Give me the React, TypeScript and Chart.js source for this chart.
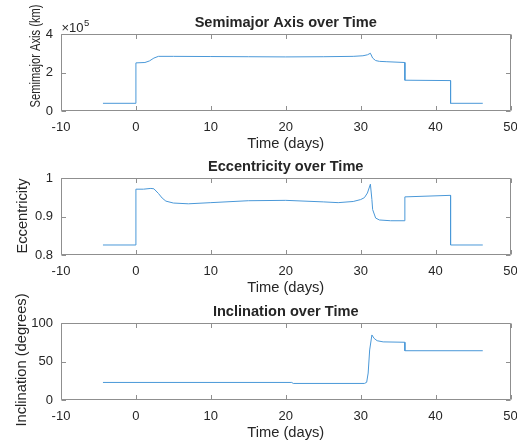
import { useEffect, useRef } from 'react';
import { Chart, registerables } from 'chart.js';

Chart.register(...registerables);

// ---------- data ----------
const xTickValues = [-10, 0, 10, 20, 30, 40, 50];

const semimajorTime = [-4.4, 0, 0, 1.2, 1.8, 2.4, 3, 5, 10, 15, 20, 25, 29, 30.3, 30.9, 31.3, 31.6, 32, 32.5, 33.5, 35.9, 35.9, 42, 42, 46.3];
const semimajorKm = [40000, 40000, 250000, 252000, 260000, 275000, 284000, 284000, 283000, 282000, 281000, 282000, 284000, 287000, 292000, 300000, 275000, 262000, 258000, 256000, 252000, 160000, 158000, 40000, 40000];
const semimajorTicks = [0, 200000, 400000];

const eccTime = [-4.4, 0, 0, 1, 2, 2.4, 3, 3.5, 4, 5, 7, 10, 15, 20, 25, 27, 29, 30, 30.5, 30.9, 31.3, 31.5, 31.6, 32, 32.5, 34, 35.9, 35.9, 42, 42, 46.3];
const eccValues = [0.826, 0.826, 0.971, 0.971, 0.973, 0.972, 0.96, 0.948, 0.94, 0.935, 0.933, 0.936, 0.941, 0.942, 0.938, 0.936, 0.939, 0.944, 0.949, 0.961, 0.984, 0.944, 0.918, 0.896, 0.891, 0.889, 0.889, 0.951, 0.955, 0.826, 0.826];
const eccTicks = [0.8, 0.9, 1];

const inclTime = [-4.4, 20.8, 21, 30.5, 30.8, 31, 31.2, 31.5, 31.8, 32.2, 33, 35.9, 35.9, 46.3];
const inclDeg = [22.8, 22.8, 21.5, 21.5, 23, 35, 65, 84.5, 80, 77, 75.5, 75, 64, 64];
const inclTicks = [0, 50, 100];

// ---------- styles ----------
const FONT = "'Liberation Sans', Arial, Helvetica, sans-serif";
const TEXT = '#262626';
const BOX = '#8f8f8f';
const LINE = '#4a98d8';
const CANVAS_W = 517;
const CANVAS_H = 155;

const matlabPlugin = {
  id: 'matlabBox',
  afterDatasetsDraw(chart: any, _args: any, opts: any) {
    const { ctx, chartArea } = chart;
    const xs = chart.scales.x;
    const ys = chart.scales.y;
    const L = Math.round(chartArea.left) + 0.5;
    const R = Math.round(chartArea.right) - 0.5;
    const T = Math.round(chartArea.top) + 0.5;
    const B = Math.round(chartArea.bottom) - 0.5;
    ctx.save();
    ctx.strokeStyle = BOX;
    ctx.lineWidth = 1;
    ctx.beginPath();
    ctx.rect(L, T, R - L, B - T);
    const tl = 4.5;
    xs.ticks.forEach((t: any) => {
      const p = Math.round(xs.getPixelForValue(t.value)) + 0.5;
      ctx.moveTo(p, B);
      ctx.lineTo(p, B - tl);
      ctx.moveTo(p, T);
      ctx.lineTo(p, T + tl);
    });
    ys.ticks.forEach((t: any) => {
      const p = Math.round(ys.getPixelForValue(t.value)) + 0.5;
      ctx.moveTo(L, p);
      ctx.lineTo(L + tl, p);
      ctx.moveTo(R, p);
      ctx.lineTo(R - tl, p);
    });
    ctx.stroke();

    // y-axis title
    ctx.fillStyle = TEXT;
    ctx.translate(opts.yTitleX, opts.yTitleY);
    ctx.rotate(-Math.PI / 2);
    ctx.scale(opts.yTitleSquash, 1);
    ctx.font = `${opts.yTitleSize}px ${FONT}`;
    ctx.textAlign = 'center';
    ctx.textBaseline = 'middle';
    ctx.fillText(opts.yTitle, 0, 0);
    ctx.restore();

    if (opts.exponent) {
      ctx.save();
      ctx.fillStyle = TEXT;
      ctx.textAlign = 'left';
      ctx.textBaseline = 'alphabetic';
      ctx.font = `13px ${FONT}`;
      const x0 = chartArea.left + 0.5;
      ctx.fillText('\u00d710', x0, chartArea.top - 2);
      const w = ctx.measureText('\u00d710').width;
      ctx.font = `9.5px ${FONT}`;
      ctx.fillText(opts.exponent, x0 + w + 0.5, chartArea.top - 8);
      ctx.restore();
    }
  },
};

type PanelProps = {
  top: number;
  title: string;
  xs: number[];
  ys: number[];
  yTicks: number[];
  yFormat: (v: number) => string;
  yTitle: string;
  yTitleSize: number;
  yTitleSquash: number;
  yTitleX: number;
  yTitleY: number;
  exponent?: string;
};

function Panel(p: PanelProps) {
  const ref = useRef<HTMLCanvasElement | null>(null);
  useEffect(() => {
    if (!ref.current) return;
    const yMin = p.yTicks[0];
    const yMax = p.yTicks[p.yTicks.length - 1];
    const chart = new Chart(ref.current, {
      type: 'line',
      data: {
        datasets: [
          {
            data: p.xs.map((x, i) => ({ x, y: p.ys[i] })),
            borderColor: LINE,
            borderWidth: 1,
            pointRadius: 0,
            tension: 0,
            fill: false,
          },
        ],
      },
      options: {
        animation: false,
        responsive: false,
        maintainAspectRatio: false,
        devicePixelRatio: 1,
        layout: { padding: { left: 0, right: 6.5, top: 0, bottom: 0 } },
        plugins: {
          legend: { display: false },
          tooltip: { enabled: false },
          title: {
            display: true,
            text: p.title,
            fullSize: false,
            color: TEXT,
            font: { family: FONT, size: 14.6, weight: 'bold' },
            padding: { top: 14, bottom: 2.5 },
          },
          matlabBox: {
            yTitle: p.yTitle,
            yTitleSize: p.yTitleSize,
            yTitleSquash: p.yTitleSquash,
            yTitleX: p.yTitleX,
            yTitleY: p.yTitleY,
            exponent: p.exponent,
          },
        } as any,
        scales: {
          x: {
            type: 'linear',
            min: xTickValues[0],
            max: xTickValues[xTickValues.length - 1],
            grid: { display: false, drawTicks: false },
            border: { display: false },
            afterBuildTicks: (s: any) => {
              s.ticks = xTickValues.map((v) => ({ value: v }));
            },
            ticks: {
              color: TEXT,
              font: { family: FONT, size: 13 },
              padding: 8.5,
              maxRotation: 0,
              autoSkip: false,
            },
            title: {
              display: true,
              text: 'Time (days)',
              color: TEXT,
              font: { family: FONT, size: 14.7 },
              padding: { top: 0, bottom: 2.5 },
            },
            afterFit: (s: any) => {
              s.height = CANVAS_H - 111;
              s.paddingLeft = 0;
              s.paddingRight = 0;
            },
          },
          y: {
            type: 'linear',
            min: yMin,
            max: yMax,
            grid: { display: false, drawTicks: false },
            border: { display: false },
            afterBuildTicks: (s: any) => {
              s.ticks = p.yTicks.map((v) => ({ value: v }));
            },
            ticks: {
              color: TEXT,
              font: { family: FONT, size: 13 },
              padding: 8,
              callback: (v: any) => p.yFormat(Number(v)),
            },
            afterFit: (s: any) => {
              s.width = 61;
            },
          },
        },
      },
      plugins: [matlabPlugin as any],
    });
    return () => chart.destroy();
  }, []);
  return (
    <canvas
      ref={ref}
      width={CANVAS_W}
      height={CANVAS_H}
      style={{ position: 'absolute', left: 0, top: p.top, width: CANVAS_W, height: CANVAS_H }}
    />
  );
}

export default function App() {
  return (
    <div
      style={{
        position: 'fixed',
        left: 0,
        top: 0,
        width: 517,
        height: 444,
        background: '#ffffff',
        overflow: 'hidden',
      }}
    >
      <Panel
        top={0}
        title="Semimajor Axis over Time"
        xs={semimajorTime}
        ys={semimajorKm}
        yTicks={semimajorTicks}
        yFormat={(v) => String(Math.round(v / 1e5))}
        yTitle="Semimajor Axis (km)"
        yTitleSize={14.7}
        yTitleSquash={0.76}
        yTitleX={35.5}
        yTitleY={56}
        exponent="5"
      />
      <Panel
        top={144}
        title="Eccentricity over Time"
        xs={eccTime}
        ys={eccValues}
        yTicks={eccTicks}
        yFormat={(v) => String(Number(v.toFixed(2)))}
        yTitle="Eccentricity"
        yTitleSize={14.7}
        yTitleSquash={1}
        yTitleX={22.5}
        yTitleY={72}
      />
      <Panel
        top={289}
        title="Inclination over Time"
        xs={inclTime}
        ys={inclDeg}
        yTicks={inclTicks}
        yFormat={(v) => String(Math.round(v))}
        yTitle="Inclination (degrees)"
        yTitleSize={14.7}
        yTitleSquash={1}
        yTitleX={21.5}
        yTitleY={71}
      />
    </div>
  );
}
